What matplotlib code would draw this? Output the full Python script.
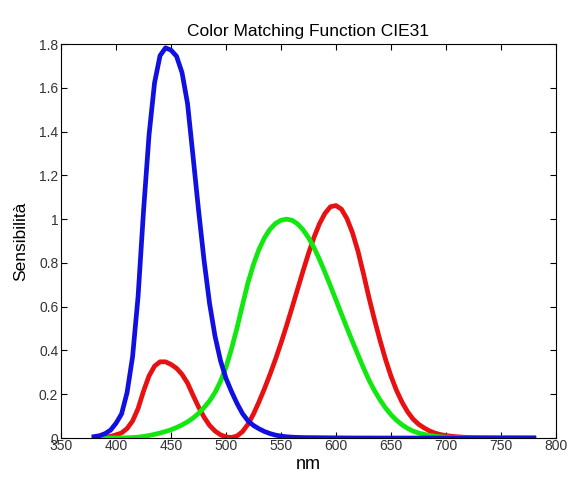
import numpy as np
import matplotlib.pyplot as plt

# CIE 1931 colour matching functions, 5 nm steps from 380 to 780
nm = np.arange(380, 781, 5)
xbar = [0.0014, 0.0022, 0.0042, 0.0077, 0.0143, 0.0232, 0.0435, 0.0776, 0.1344, 0.2148,
        0.2839, 0.3285, 0.3483, 0.3481, 0.3362, 0.3187, 0.2908, 0.2511, 0.1954, 0.1421,
        0.0956, 0.0580, 0.0320, 0.0147, 0.0049, 0.0024, 0.0093, 0.0291, 0.0633, 0.1096,
        0.1655, 0.2258, 0.2904, 0.3597, 0.4335, 0.5121, 0.5945, 0.6784, 0.7621, 0.8425,
        0.9163, 0.9786, 1.0263, 1.0567, 1.0622, 1.0456, 1.0026, 0.9384, 0.8545, 0.7514,
        0.6424, 0.5419, 0.4479, 0.3608, 0.2835, 0.2187, 0.1649, 0.1212, 0.0874, 0.0636,
        0.0468, 0.0329, 0.0227, 0.0158, 0.0114, 0.0081, 0.0058, 0.0041, 0.0029, 0.0020,
        0.0014, 0.0010, 0.0007, 0.0005, 0.0003, 0.0002, 0.0002, 0.0001, 0.0001, 0.0001, 0.0000]
ybar = [0.0000, 0.0001, 0.0001, 0.0002, 0.0004, 0.0006, 0.0012, 0.0022, 0.0040, 0.0073,
        0.0116, 0.0168, 0.0230, 0.0298, 0.0380, 0.0480, 0.0600, 0.0739, 0.0910, 0.1126,
        0.1390, 0.1693, 0.2080, 0.2586, 0.3230, 0.4073, 0.5030, 0.6082, 0.7100, 0.7932,
        0.8620, 0.9149, 0.9540, 0.9803, 0.9950, 1.0000, 0.9950, 0.9786, 0.9520, 0.9154,
        0.8700, 0.8163, 0.7570, 0.6949, 0.6310, 0.5668, 0.5030, 0.4412, 0.3810, 0.3210,
        0.2650, 0.2170, 0.1750, 0.1382, 0.1070, 0.0816, 0.0610, 0.0446, 0.0320, 0.0232,
        0.0170, 0.0119, 0.0082, 0.0057, 0.0041, 0.0029, 0.0021, 0.0015, 0.0010, 0.0007,
        0.0005, 0.0004, 0.0002, 0.0002, 0.0001, 0.0001, 0.0001, 0.0000, 0.0000, 0.0000, 0.0000]
zbar = [0.0065, 0.0106, 0.0201, 0.0362, 0.0679, 0.1102, 0.2074, 0.3713, 0.6456, 1.0391,
        1.3856, 1.6230, 1.7471, 1.7826, 1.7721, 1.7441, 1.6692, 1.5281, 1.2876, 1.0419,
        0.8130, 0.6162, 0.4652, 0.3533, 0.2720, 0.2123, 0.1582, 0.1117, 0.0783, 0.0573,
        0.0422, 0.0298, 0.0203, 0.0134, 0.0088, 0.0058, 0.0039, 0.0028, 0.0021, 0.0018,
        0.0017, 0.0014, 0.0011, 0.0010, 0.0008, 0.0006, 0.0003, 0.0002, 0.0002, 0.0001,
        0.0001, 0.0000, 0.0000, 0.0000, 0.0000, 0.0000, 0.0000, 0.0000, 0.0000, 0.0000,
        0.0000, 0.0000, 0.0000, 0.0000, 0.0000, 0.0000, 0.0000, 0.0000, 0.0000, 0.0000,
        0.0000, 0.0000, 0.0000, 0.0000, 0.0000, 0.0000, 0.0000, 0.0000, 0.0000, 0.0000, 0.0000]

plt.rcParams['font.family'] = ['Liberation Sans', 'DejaVu Sans']

fig = plt.figure(figsize=(5.82, 4.84), dpi=100)
ax = fig.add_axes([0.105, 0.095, 0.85, 0.814])

ax.plot(nm, xbar, color='#e81010', lw=3.4)
ax.plot(nm, ybar, color='#10e810', lw=3.4)
ax.plot(nm, zbar, color='#1010e0', lw=3.4)

ax.set_xlim(350, 800)
ax.set_ylim(0, 1.8)
ax.set_xticks(np.arange(350, 801, 50))
ax.set_yticks(np.arange(0, 1.81, 0.2))
ax.set_yticklabels(['0', '0.2', '0.4', '0.6', '0.8', '1', '1.2', '1.4', '1.6', '1.8'])
ax.tick_params(direction='in', top=True, right=True, labelsize=10, length=4,
               labelcolor='#333333')
ax.tick_params(axis='x', pad=1)
ax.tick_params(axis='y', pad=2)
for s in ax.spines.values():
    s.set_linewidth(0.8)

ax.set_title('Color Matching Function CIE31', fontsize=12.5, pad=6)
ax.set_xlabel('nm', fontsize=13, labelpad=2)
ax.set_ylabel('Sensibilità', fontsize=12.5, labelpad=8)

fig.savefig('out.png', dpi=100)
